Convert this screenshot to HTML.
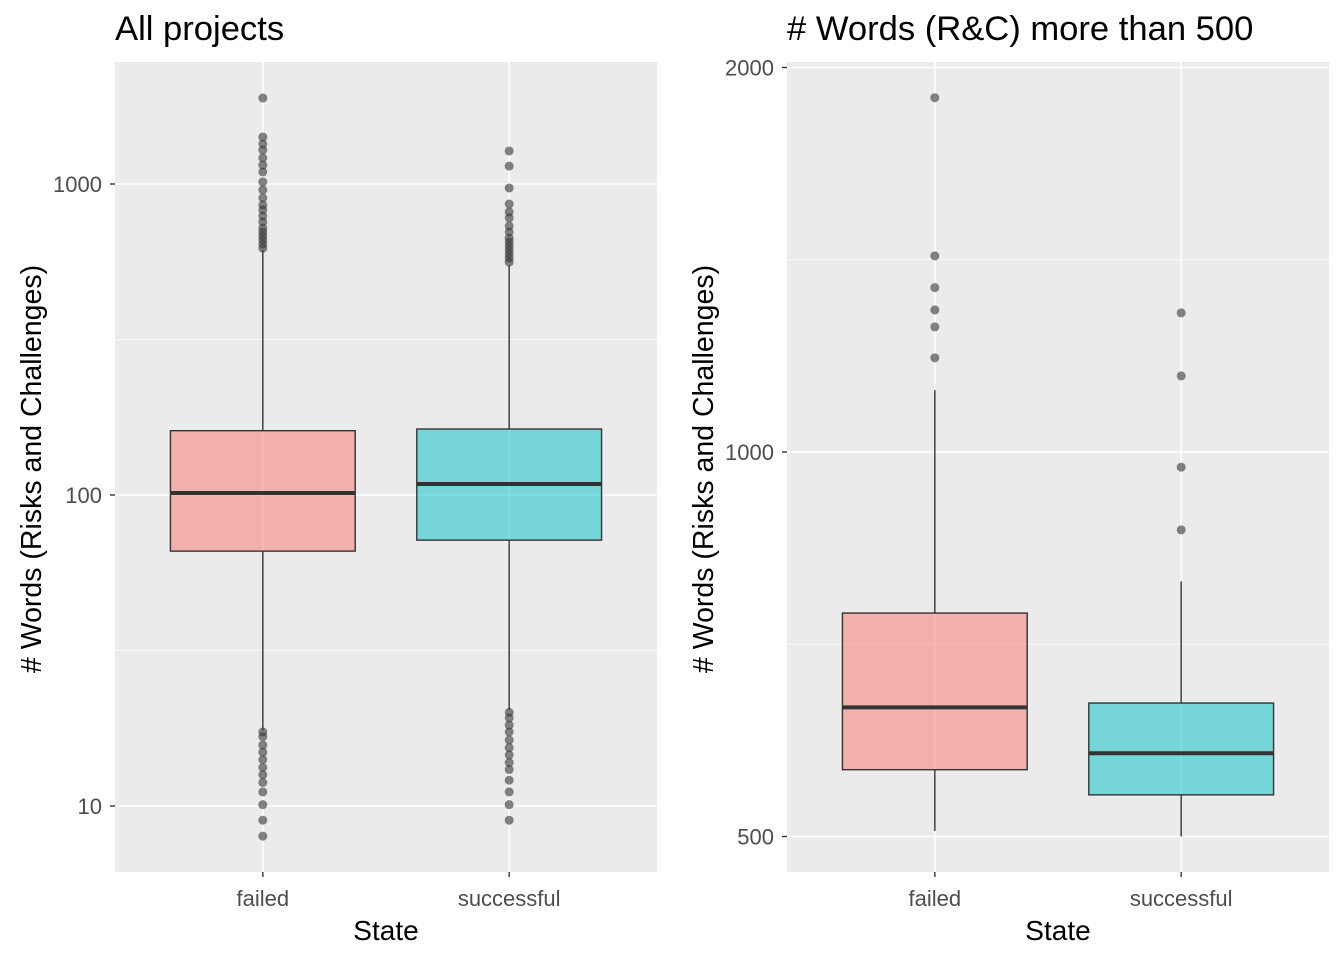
<!DOCTYPE html>
<html><head><meta charset="utf-8"><style>
html,body{margin:0;padding:0;background:#fff;}
svg{display:block;font-family:"Liberation Sans",Arial,sans-serif;}
</style></head><body>
<svg id="chart" width="1344" height="960" viewBox="0 0 1344 960"></svg>
<script>
// Left panel data
const categories = ["failed", "successful"];
const leftStats = [
  {q1: 66, med: 101.5, q3: 161, lo: 17.5, hi: 614},
  {q1: 71.6, med: 108.5, q3: 163, lo: 20.4, hi: 548}
];
const leftOutFailed = [622,641,661,680,701,722,755,789,825,856,902,957,1015,1093,1151,1213,1286,1345,1416,1890,17.3,16.7,15.7,14.9,14.1,13.3,12.6,11.9,11.1,10.1,9.0,8.0];
const leftOutSucc = [561,578,596,614,632,651,670,701,733,778,813,862,971,1142,1277,20.0,19.2,18.2,17.3,16.3,15.4,14.6,13.8,13.1,12.1,11.1,10.1,9.0];
const leftTicks = [10, 100, 1000];
// Right panel data
const rightStats = [
  {q1: 564, med: 631, q3: 748, lo: 505, hi: 1118},
  {q1: 539, med: 581, q3: 636, lo: 500, hi: 792}
];
const rightOutFailed = [1894,1424,1345,1292,1253,1185];
const rightOutSucc = [1285,1147,973,869];
const rightTicks = [500, 1000, 2000];

const NS = "http://www.w3.org/2000/svg";
const svg = document.getElementById("chart");
function mk(tag, attrs, parent, text){
  const e = document.createElementNS(NS, tag);
  for (const k in attrs) e.setAttribute(k, attrs[k]);
  if (text !== undefined) e.textContent = text;
  (parent || svg).appendChild(e);
  return e;
}
const fills = ["#F8766D", "#00BFC4"];

function panel(cfg){
  const g = mk("g", {});
  
  
  const {x0, x1, y0, y1} = cfg;
  mk("rect", {x:x0, y:y0, width:x1-x0, height:y1-y0, fill:"#EBEBEB"}, g);
  const Y = cfg.yScale;
  cfg.minor.forEach(v => mk("line", {x1:x0, x2:x1, y1:Y(v), y2:Y(v), stroke:"#fff", "stroke-width":0.8}, g));
  cfg.ticks.forEach(v => {
    mk("line", {x1:x0, x2:x1, y1:Y(v), y2:Y(v), stroke:"#fff", "stroke-width":1.6}, g);
    mk("line", {x1:x0-5, x2:x0, y1:Y(v), y2:Y(v), stroke:"#333", "stroke-width":1.4}, g);
    const t = mk("text", {x:x0-13, y:Y(v)+8, "text-anchor":"end", "font-size":22, fill:"#4D4D4D"}, g, String(v));
    
    
  });
  const unit = (x1-x0)/2.2;
  const X = i => x0 + unit*(0.6+i);
  categories.forEach((c, i) => mk("line", {x1:X(i), x2:X(i), y1:y0, y2:y1, stroke:"#fff", "stroke-width":1.6}, g));
  const hw = unit*0.375;
  cfg.stats.forEach((s, i) => {
    const cx = X(i);
    mk("line", {x1:cx, x2:cx, y1:Y(s.hi), y2:Y(s.q3), stroke:"#333", "stroke-width":1.4}, g);
    mk("line", {x1:cx, x2:cx, y1:Y(s.q1), y2:Y(s.lo), stroke:"#333", "stroke-width":1.4}, g);
    const b = mk("rect", {x:cx-hw, y:Y(s.q3), width:2*hw, height:Y(s.q1)-Y(s.q3), fill:fills[i], "fill-opacity":0.5, stroke:"#333", "stroke-width":1.4}, g);
    
    
    mk("line", {x1:cx-hw, x2:cx+hw, y1:Y(s.med), y2:Y(s.med), stroke:"#333", "stroke-width":4}, g);
    cfg.outliers[i].forEach(v => {
      const p = mk("circle", {cx:cx, cy:Y(v), r:4.5, fill:"#333", "fill-opacity":0.6}, g);
      
      
    });
    mk("line", {x1:cx, x2:cx, y1:y1, y2:y1+5, stroke:"#333", "stroke-width":1.4}, g);
    const t = mk("text", {x:cx, y:y1+34, "text-anchor":"middle", "font-size":22, fill:"#4D4D4D"}, g, categories[i]);
    
    
  });
  const tt = mk("text", {x:x0, y:40, "font-size":34.6, fill:"#000"}, g, cfg.title);
  
  
  const xl = mk("text", {x:(x0+x1)/2, y:940, "text-anchor":"middle", "font-size":28, fill:"#000"}, g, "State");
  
  
  const cy = (y0+y1)/2 + 2;
  const yl = mk("text", {x:cfg.ylx, y:cy, "text-anchor":"middle", "font-size":28.5, fill:"#000", transform:`rotate(-90 ${cfg.ylx} ${cy})`}, g, "# Words (Risks and Challenges)");
  
  
}

panel({name:"left-panel", x0:115, x1:657, y0:62, y1:872, title:"All projects",
  yScale: v => 495 - 311*Math.log10(v/100), ticks:leftTicks, minor:[Math.sqrt(1000), Math.sqrt(100000)],
  stats:leftStats, outliers:[leftOutFailed, leftOutSucc], ylx:41});
panel({name:"right-panel", x0:787, x1:1329, y0:62, y1:872, title:"# Words (R&C) more than 500",
  yScale: v => 452 - 384.5*Math.log2(v/1000), ticks:rightTicks, minor:[Math.sqrt(500000), Math.sqrt(2000000)],
  stats:rightStats, outliers:[rightOutFailed, rightOutSucc], ylx:713});
</script>
</body></html>
